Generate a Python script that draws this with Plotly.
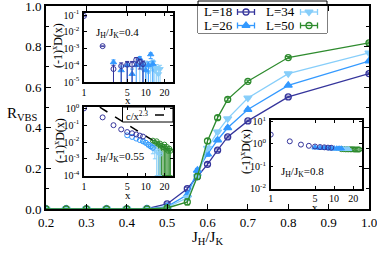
import plotly.graph_objects as go

FONT = "Liberation Serif"

# ---------------- main data ----------------
jhjk = [0.2, 0.25, 0.3, 0.35, 0.4, 0.45, 0.5, 0.55, 0.575, 0.6, 0.625, 0.65, 0.7, 0.8, 1.0]
r_L18 = [0, 0, 0, 0, 0, 0.002, 0.025, 0.10, 0.16, 0.22, 0.29, 0.355, 0.434, 0.552, 0.667]
r_L26 = [0, 0, 0, 0, 0, 0.001, 0.012, 0.07, 0.19, 0.27, 0.34, 0.40, 0.49, 0.609, 0.729]
r_L34 = [0, 0, 0, 0, 0, 0.001, 0.008, 0.055, 0.16, 0.30, 0.38, 0.445, 0.547, 0.667, 0.769]
r_L50 = [0, 0, 0, 0, 0, 0.0, 0.005, 0.035, 0.16, 0.335, 0.45, 0.54, 0.629, 0.746, 0.818]
e_L18 = [0, 0, 0, 0, 0, 0.002, 0.004, 0.008, 0.008, 0.008, 0.006, 0.005, 0.004, 0.004, 0.004]
e_L26 = [0, 0, 0, 0, 0, 0.002, 0.004, 0.010, 0.010, 0.010, 0.008, 0.006, 0.005, 0.004, 0.004]
e_L34 = [0, 0, 0, 0, 0, 0.002, 0.005, 0.012, 0.012, 0.010, 0.008, 0.006, 0.005, 0.004, 0.004]
e_L50 = [0, 0, 0, 0, 0, 0.002, 0.006, 0.015, 0.015, 0.012, 0.010, 0.008, 0.006, 0.005, 0.005]

labels = ["L=18", "L=26", "L=34", "L=50"]
colors = ["#35359c", "#3399ff", "#87cefa", "#2e8b2e"]
symbols = ["circle-open", "triangle-up", "triangle-down", "circle-open"]

# ---------------- inset J_H/J_K = 0.4 ----------------
i4_x18 = [1, 2, 3, 4, 5, 6, 7, 8, 9]
i4_y18 = [0.09, 1.4e-3, 6e-5, 9e-5, 1.1e-4, 1.1e-4, 2.1e-4, 1.6e-4, 1.2e-4]
i4_p18 = [0, 0, 4e-5, 5e-5, 6e-5, 6e-5, 8e-5, 7e-5, 6e-5]
i4_m18 = [0, 0, 5.9e-5, 8.9e-5, 1.09e-4, 1.09e-4, 1.2e-4, 1.0e-4, 1.19e-4]
i4_x26 = [3, 4, 5, 6, 7, 8, 9, 10, 11, 12, 13]
i4_y26 = [1.5e-4, 5e-5, 1.0e-4, 3e-5, 1.0e-4, 2.5e-4, 1.0e-4, 5e-5, 1.0e-4, 4.5e-4, 1.2e-4]
i4_p26 = [6e-5, 4e-5, 6e-5, 3e-5, 6e-5, 8e-5, 6e-5, 4e-5, 6e-5, 1e-4, 6e-5]
i4_m26 = [1.49e-4, 4.9e-5, 9.9e-5, 2.9e-5, 9.9e-5, 1.5e-4, 9.9e-5, 4.9e-5, 9.9e-5, 2e-4, 1.19e-4]
i4_x34 = [8, 9, 10, 11, 12, 13, 14, 15, 16, 17]
i4_y34 = [1.0e-4, 6e-5, 1.2e-4, 4e-5, 8e-5, 1.5e-4, 5e-5, 7e-5, 3e-5, 6e-5]
i4_p34 = [5e-5, 4e-5, 6e-5, 3e-5, 5e-5, 6e-5, 4e-5, 4e-5, 3e-5, 4e-5]
i4_m34 = [9.9e-5, 5.9e-5, 1.19e-4, 3.9e-5, 7.9e-5, 1.49e-4, 4.9e-5, 6.9e-5, 2.9e-5, 5.9e-5]

# ---------------- inset J_H/J_K = 0.55 ----------------
i55_x18 = [1, 2, 3, 4, 5, 6, 7, 8, 9]
i55_y18 = [1.0, 0.29, 0.1, 0.056, 0.039, 0.033, 0.028, 0.024, 0.021]
i55_x26 = [5, 6, 7, 8, 9, 10, 11, 12, 13]
i55_y26 = [0.025, 0.02, 0.016, 0.013, 0.011, 0.009, 0.007, 0.0055, 0.0045]
i55_x34 = [9, 10, 11, 12, 13, 14, 15, 16, 17]
i55_y34 = [0.011, 0.009, 0.007, 0.006, 0.005, 0.004, 0.003, 0.0025, 0.002]
i55_m34 = [0.002, 0.002, 0.002, 0.002, 0.003, 0.003, 0.0029, 0.0024, 0.0019]
i55_x50 = [13, 14, 15, 16, 17, 18, 19, 20, 21, 22, 23, 24, 25]
i55_y50 = [0.012, 0.009, 0.011, 0.007, 0.008, 0.006, 0.005, 0.007, 0.004, 0.005, 0.003, 0.004, 0.003]
i55_m50 = [0.004, 0.004, 0.005, 0.0069, 0.0079, 0.0059, 0.0049, 0.0069, 0.0039, 0.0049, 0.0029, 0.0039, 0.0029]
fit_x = [1.8, 22]
fit_c = 4.5
fit_p = 2.3

# ---------------- inset J_H/J_K = 0.8 ----------------
i8_x18 = [1, 2, 3, 4, 5, 6, 7, 8, 9]
i8_y18 = [2.6, 1.3, 0.93, 0.82, 0.76, 0.72, 0.70, 0.68, 0.67]
i8_x26 = [5, 6, 7, 8, 9, 10, 11, 12, 13]
i8_y26 = [0.68, 0.66, 0.65, 0.64, 0.63, 0.63, 0.62, 0.62, 0.62]
i8_x34 = [9, 10, 11, 12, 13, 14, 15, 16, 17]
i8_y34 = [0.61, 0.60, 0.60, 0.59, 0.59, 0.59, 0.58, 0.58, 0.58]
i8_x50 = [13, 14, 15, 16, 17, 18, 19, 20, 21, 22, 23, 24, 25]
i8_y50 = [0.58, 0.58, 0.57, 0.57, 0.57, 0.57, 0.57, 0.57, 0.56, 0.56, 0.56, 0.56, 0.56]

inset_xticks = [1, 5, 10, 20]

fig = go.Figure()

# main traces
for lab, ys, es, c, s in zip(labels, [r_L18, r_L26, r_L34, r_L50],
                             [e_L18, e_L26, e_L34, e_L50], colors, symbols):
    fig.add_trace(go.Scatter(
        x=jhjk, y=ys, name=lab, mode="lines+markers",
        line=dict(color=c, width=1.3),
        marker=dict(symbol=s, size=6 if "circle" in s else 7, color=c, line=dict(color=c, width=1.3)),
        error_y=dict(type="data", array=es, color=c, thickness=1, width=2.5),
        xaxis="x", yaxis="y", showlegend=False))


def inset_trace(xs, ys, c, s, ax, plus=None, minus=None):
    ed = None
    if plus is not None or minus is not None:
        ed = dict(type="data", symmetric=False, array=plus if plus is not None else [0] * len(xs),
                  arrayminus=minus if minus is not None else [0] * len(xs), color=c, thickness=1, width=2)
    fig.add_trace(go.Scatter(
        x=xs, y=ys, mode="markers",
        marker=dict(symbol=s, size=5 if "circle" in s else 5.5, color=c, line=dict(color=c, width=1)),
        error_y=ed, xaxis="x" + ax, yaxis="y" + ax, showlegend=False))


inset_trace(i4_x34, i4_y34, colors[2], symbols[2], "2", i4_p34, i4_m34)
inset_trace(i4_x26, i4_y26, colors[1], symbols[1], "2", i4_p26, i4_m26)
inset_trace(i4_x18, i4_y18, colors[0], symbols[0], "2", i4_p18, i4_m18)

fig.add_trace(go.Scatter(x=fit_x, y=[fit_c / v ** fit_p for v in fit_x], mode="lines",
                         line=dict(color="black", width=1.5, dash="dash"),
                         xaxis="x3", yaxis="y3", showlegend=False))
inset_trace(i55_x50, i55_y50, colors[3], symbols[3], "3", None, i55_m50)
inset_trace(i55_x34, i55_y34, colors[2], symbols[0], "3", None, i55_m34)
inset_trace(i55_x26, i55_y26, colors[1], symbols[0], "3")
inset_trace(i55_x18, i55_y18, colors[0], symbols[0], "3")

inset_trace(i8_x50, i8_y50, colors[3], symbols[3], "4")
inset_trace(i8_x34, i8_y34, colors[2], symbols[1], "4")
inset_trace(i8_x26, i8_y26, colors[1], symbols[1], "4")
inset_trace(i8_x18, i8_y18, colors[0], symbols[0], "4")

W, H = 377, 254
L, R, T, B = 46, 8, 6, 45
pw, ph = W - L - R, H - T - B


def px2x(p):
    return (p - L) / pw


def px2y(p):
    return (H - B - p) / ph


# ---------------- hand-made legend (gnuplot style: label, then key) ----------------
LEG_X0, LEG_X1, LEG_Y0, LEG_Y1 = 198, 327, 1, 33
LEG_AX_TOP = T
leg_cols = [0, 0, 1, 1]          # L=18, L=26 | L=34, L=50
leg_rows = [0, 1, 0, 1]
col_text_x = [202, 264]
col_key_x = [246, 309]
row_y = [12, 25.5]
half = 8.5
cap = 3
ann = []
for lab, c, s, cl, rw in zip(labels, colors, symbols, leg_cols, leg_rows):
    xc, yc = col_key_x[cl], row_y[rw]
    fig.add_trace(go.Scatter(
        x=[xc - half, xc - half, None, xc - half, xc + half, None, xc + half, xc + half],
        y=[yc - cap, yc + cap, None, yc, yc, None, yc - cap, yc + cap],
        mode="lines", line=dict(color=c, width=1.3), xaxis="x5", yaxis="y5",
        showlegend=False, hoverinfo="skip"))
    fig.add_trace(go.Scatter(
        x=[xc], y=[yc], mode="markers",
        marker=dict(symbol=s, size=6 if "circle" in s else 7, color=c, line=dict(color=c, width=1.3)),
        xaxis="x5", yaxis="y5", showlegend=False, hoverinfo="skip"))
    ann.append(dict(text=lab, x=px2x(col_text_x[cl]), y=px2y(yc), xref="paper", yref="paper",
                    showarrow=False, xanchor="left", yanchor="middle",
                    font=dict(family=FONT, size=13, color="black")))

axfont = dict(family=FONT, size=13, color="black")
infont = dict(family=FONT, size=10, color="black")

common_main = dict(showline=True, linewidth=2, linecolor="black", mirror="ticks", ticks="inside",
                   ticklen=5, tickwidth=1, tickcolor="black", showgrid=False, zeroline=False,
                   tickfont=axfont, automargin=False, ticklabeloverflow="allow")

fig.update_layout(
    width=W, height=H, margin=dict(l=L, r=R, t=T, b=B, autoexpand=False),
    paper_bgcolor="white", plot_bgcolor="white",
    font=dict(family=FONT, color="black"),
    showlegend=False,
    xaxis=dict(range=[0.2, 1.0], dtick=0.1, tickformat=".1f", domain=[0, 1], **common_main),
    yaxis=dict(range=[0, 1.0], dtick=0.2, tickformat=".1f", domain=[0, 1],
               minor=dict(dtick=0.1, ticks="inside", ticklen=3, tickcolor="black"), **common_main),
    xaxis5=dict(domain=[px2x(LEG_X0), px2x(LEG_X1)], range=[LEG_X0, LEG_X1], visible=False,
                anchor="y5", fixedrange=True),
    yaxis5=dict(domain=[px2y(LEG_Y1), px2y(LEG_AX_TOP)], range=[LEG_Y1, LEG_AX_TOP], visible=False,
                anchor="x5", fixedrange=True),
)

inset_common = dict(type="log", showline=True, linewidth=1.5, linecolor="black", mirror="ticks",
                    ticks="inside", ticklen=3, tickcolor="black", showgrid=False, zeroline=False,
                    tickfont=infont, automargin=False, ticklabeloverflow="allow")


def set_inset(n, x0, x1, y0, y1, ypows, yr, xr=(0, 1.44)):
    fig.layout["xaxis" + n] = dict(domain=[px2x(x0), px2x(x1)], range=list(xr), anchor="y" + n,
                                   tickvals=inset_xticks, ticktext=[str(v) for v in inset_xticks],
                                   ticklabelstandoff=0, **inset_common)
    fig.layout["yaxis" + n] = dict(domain=[px2y(y1), px2y(y0)], range=list(yr), anchor="x" + n,
                                   tickvals=[10.0 ** p for p in ypows],
                                   ticktext=["10<sup>%d</sup>" % p for p in ypows],
                                   ticklabelstandoff=1, **inset_common)


set_inset("2", 84, 173, 13, 82, [-5, -4, -3, -2, -1], (-5.0, -0.87))
set_inset("3", 84, 173, 107, 176, [-4, -3, -2, -1, 0], (-4.02, 0.08))
set_inset("4", 270.7, 362, 120, 188.5, [-2, -1, 0, 1], (-2.0, 1.07))


def add_text(text, x, y, size=13, angle=0, xanchor="center"):
    ann.append(dict(text=text, x=px2x(x), y=px2y(y), xref="paper", yref="paper", showarrow=False,
                    textangle=angle, xanchor=xanchor, yanchor="middle",
                    font=dict(family=FONT, size=size, color="black")))


ytit = "(-1)<sup>x</sup>D(x)"
add_text("R<sub>VBS</sub>", 22, 114, 15)
add_text("J<sub>H</sub>/J<sub>K</sub>", 207, 238, 15)
add_text(ytit, 58, 46, 12, -90)
add_text(ytit, 59, 141, 12, -90)
add_text(ytit, 245, 152, 12, -90)
add_text("x", 128, 100, 11)
add_text("x", 128, 195, 11)
add_text("x", 315, 207, 11)
add_text("J<sub>H</sub>/J<sub>K</sub>=0.4", 94, 33, 11, xanchor="left")
add_text("J<sub>H</sub>/J<sub>K</sub>=0.55", 94, 157, 11, xanchor="left")
add_text("J<sub>H</sub>/J<sub>K</sub>=0.8", 279, 172, 11, xanchor="left")
add_text("c/x<sup>2.3</sup>", 124, 115, 10.5, xanchor="left")
fig.update_layout(annotations=ann)

fig.update_layout(shapes=[
    dict(type="rect", xref="paper", yref="paper", x0=px2x(LEG_X0), x1=px2x(LEG_X1),
         y0=px2y(LEG_Y1), y1=px2y(LEG_Y0), line=dict(color="black", width=1), fillcolor="white",
         layer="below"),
    dict(type="rect", xref="paper", yref="paper", x0=px2x(122.5), x1=px2x(173), y0=px2y(122), y1=px2y(107),
         line=dict(color="black", width=1), fillcolor="rgba(0,0,0,0)"),
    dict(type="line", xref="paper", yref="paper", x0=px2x(155), x1=px2x(170), y0=px2y(115), y1=px2y(115),
         line=dict(color="black", width=1.5, dash="dash")),
])

fig.write_html("out.html", config={"displayModeBar": False},
               post_script="document.body.style.margin='0';document.body.style.overflow='hidden';")
